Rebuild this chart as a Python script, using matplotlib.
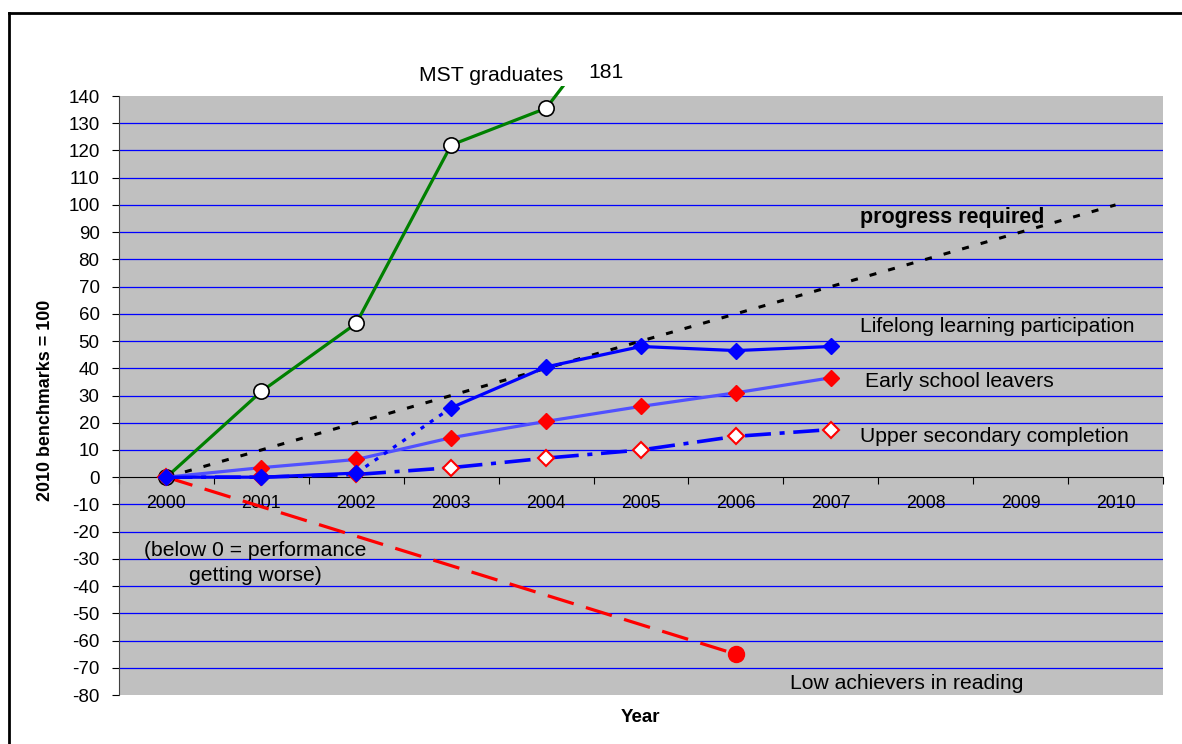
import numpy as np
import matplotlib.pyplot as plt
from matplotlib.lines import Line2D
from matplotlib.patches import Rectangle

plt.rcParams['font.family'] = ['Liberation Sans', 'DejaVu Sans']
plt.rcParams['axes.unicode_minus'] = False

years = ['2000', '2001', '2002', '2003', '2004', '2005', '2006', '2007', '2008', '2009', '2010']
mst = [0, 31.5, 56.5, 122, 135.5, 181]
lifelong = [0, 0, 1.5, 25.5, 40.5, 48, 46.5, 48]
early = [0, 3.5, 6.5, 14.5, 20.5, 26, 31, 36.5]
upper = [0, 0, 1, 3.5, 7, 10, 15, 17.5]
reading_years = ['2000', '2006']
reading = [0, -65]
progress_years = ['2000', '2010']
progress = [0, 100]

x = np.arange(len(years))
pos = {y: i for i, y in enumerate(years)}

fig = plt.figure(figsize=(11.82, 7.44), dpi=100)
ax = fig.add_axes([119 / 1182, 49 / 744, 1044 / 1182, 599 / 744])
ax.set_facecolor('#C0C0C0')
ax.set_xlim(-0.5, 10.5)
ax.set_ylim(-80, 140)

# horizontal grid
for v in range(-70, 140, 10):
    if v != 0:
        ax.axhline(v, color='#0000FF', lw=0.9, zorder=1)

# low achievers in reading
rx = [pos[y] for y in reading_years]
ax.plot(rx, reading, color='#FF0000', lw=2.3, ls=(0, (8.5, 4)), zorder=3)
ax.plot(rx[-1], reading[-1], 'o', color='#FF0000', ms=11.5, zorder=3)

# progress required
px = [pos[y] for y in progress_years]
ax.plot(px, progress, color='black', lw=2.2, ls=(0, (2.3, 4)), zorder=4)

# MST graduates (goes above the plot area)
mline, = ax.plot(x[:len(mst)], mst, color='#008000', lw=2.3, marker='o', ms=11,
                 mfc='white', mec='black', mew=1.2, zorder=5)
clip = Rectangle((0, 0), 1, 1.017, transform=ax.transAxes)
mline.set_clip_path(clip)

# upper secondary completion
ax.plot(x[:len(upper)], upper, color='#0000FF', lw=2.6, ls=(0, (7.2, 2.4, 1.4, 2.4)),
        marker='D', ms=8.5, mfc='white', mec='#FF0000', mew=1.5, zorder=6)

# early school leavers
ax.plot(x[:len(early)], early, color='#5050FF', lw=2.3, marker='D', ms=8.5,
        mfc='#FF0000', mec='#FF0000', zorder=7)

# lifelong learning (dotted between 2002 and 2003)
ax.plot(x[:3], lifelong[:3], color='#0000FF', lw=2.3, zorder=8)
ax.plot(x[2:4], lifelong[2:4], color='#0000FF', lw=2.3, ls=(0, (1.3, 2.2)), zorder=8)
ax.plot(x[3:len(lifelong)], lifelong[3:], color='#0000FF', lw=2.3, zorder=8)
ax.plot(x[:len(lifelong)], lifelong, 'D', color='#0000FF', ms=8.5, zorder=8)

# axes
ax.spines['top'].set_visible(False)
ax.spines['right'].set_visible(False)
ax.spines['left'].set_color('#404040')
ax.spines['bottom'].set_position(('data', 0))
ax.spines['bottom'].set_color('black')
ax.spines['bottom'].set_zorder(2)

ax.set_yticks(range(-80, 141, 10))
ax.tick_params(axis='y', direction='out', length=5, labelsize=13.5, pad=9)
ax.set_xticks(np.arange(-0.5, 10.6, 1))
ax.set_xticklabels([])
ax.set_xticks(x, minor=True)
ax.set_xticklabels(years, minor=True)
ax.tick_params(axis='x', which='major', direction='out', length=5)
ax.tick_params(axis='x', which='minor', length=0, labelsize=12.7, pad=13)

# annotations
fs = 15.2
ax.text(3.42, 147.5, 'MST graduates', fontsize=fs, ha='center', va='center', clip_on=False)
ax.text(4.63, 148.5, '181', fontsize=fs, ha='center', va='center', clip_on=False)
ax.text(8.28, 95.5, 'progress required', fontsize=15.5, fontweight='bold', ha='center', va='center')
ax.text(7.31, 55.4, 'Lifelong learning participation', fontsize=fs, ha='left', va='center')
ax.text(7.36, 35.1, 'Early school leavers', fontsize=fs, ha='left', va='center')
ax.text(7.31, 14.9, 'Upper secondary completion', fontsize=fs, ha='left', va='center')
ax.text(0.94, -31.6, '(below 0 = performance\ngetting worse)', fontsize=fs,
        ha='center', va='center', linespacing=1.4)
ax.text(7.80, -75.6, 'Low achievers in reading', fontsize=fs, ha='center', va='center')

fig.text(45 / 1182, 1 - 400 / 744, '2010 benchmarks = 100', rotation=90, fontsize=12.9,
         fontweight='bold', ha='center', va='center')
fig.text(640 / 1182, 1 - 717 / 744, 'Year', fontsize=13.5, fontweight='bold', ha='center', va='center')

# outer frame
fig.add_artist(Line2D([9 / 1182, 9 / 1182], [0, 1 - 13 / 744], color='black', lw=2,
                      transform=fig.transFigure))
fig.add_artist(Line2D([9 / 1182, 1], [1 - 13 / 744, 1 - 13 / 744], color='black', lw=2,
                      transform=fig.transFigure))

fig.savefig('out.png', dpi=100)
